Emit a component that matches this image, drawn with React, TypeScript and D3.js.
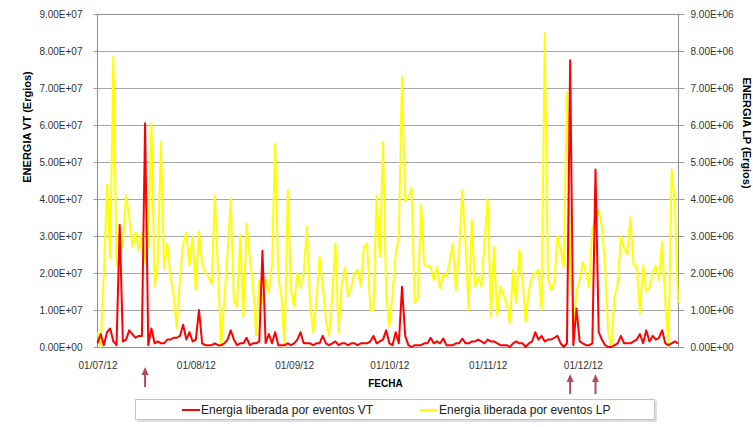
import * as d3 from "d3";
import { useEffect, useRef } from "react";

// one value per day, 01/07/12 .. 31/12/12
const startDate = new Date(2012, 6, 1);

// Energia VT, in units of 1e7 ergios (left axis)
const vtE7 = [
  0.1, 0.35, 0.05, 0.4, 0.5, 0.15, 0.05, 3.3, 0.15, 0.2,
  0.45, 0.35, 0.25, 0.3, 0.3, 6.05, 0.05, 0.5, 0.1, 0.15,
  0.1, 0.1, 0.2, 0.2, 0.25, 0.25, 0.3, 0.6, 0.2, 0.4,
  0.15, 0.2, 1.0, 0.1, 0.05, 0.05, 0.05, 0.1, 0.05, 0.05,
  0.1, 0.2, 0.45, 0.2, 0.05, 0.1, 0.1, 0.25, 0.05, 0.1,
  0.1, 0.15, 2.6, 0.1, 0.35, 0.1, 0.4, 0.05, 0.05, 0.05,
  0.1, 0.05, 0.1, 0.2, 0.4, 0.1, 0.1, 0.1, 0.05, 0.1,
  0.1, 0.3, 0.1, 0.05, 0.1, 0.15, 0.05, 0.1, 0.1, 0.05,
  0.1, 0.1, 0.05, 0.1, 0.1, 0.1, 0.15, 0.3, 0.1, 0.15,
  0.2, 0.45, 0.1, 0.05, 0.4, 0.1, 1.63, 0.3, 0.05, 0,
  0.05, 0.05, 0.05, 0.1, 0.1, 0.25, 0.1, 0.15, 0.1, 0.23,
  0.05, 0.05, 0.05, 0.1, 0.1, 0.23, 0.1, 0.1, 0.15, 0.15,
  0.2, 0.15, 0.1, 0.2, 0.15, 0.15, 0.1, 0.05, 0.05, 0.05,
  0, 0.1, 0.15, 0.1, 0.1, 0, 0.1, 0.15, 0.4, 0.2,
  0.3, 0.15, 0.2, 0.2, 0.25, 0.3, 0.1, 0, 0.1, 7.75,
  0.05, 1.04, 0.15, 0.1, 0.05, 0.05, 0.1, 4.8, 0.4, 0.2,
  0.05, 0, 0, 0.05, 0.1, 0.3, 0.1, 0.1, 0.1, 0.15,
  0.2, 0.35, 0.1, 0.45, 0.15, 0.3, 0.2, 0.25, 0.45, 0.1,
  0.05, 0.1, 0.15, 0.1,
];

// Energia LP, in units of 1e6 ergios (right axis)
const lpE6 = [
  0.4, 0, 2.0, 4.4, 2.4, 7.85, 2.2, 2.5, 2.8, 4.1,
  3.5, 2.7, 3.1, 2.6, 3.1, 2.3, 2.8, 6.05, 1.63, 2.26,
  5.55, 2.1, 2.8, 1.9, 1.4, 0.5, 1.9, 2.8, 3.1, 2.2,
  3.0, 1.54, 3.12, 2.26, 2.0, 1.9, 1.7, 4.1, 2.0, 0,
  1.3, 2.5, 4.0, 1.26, 1.08, 3.03, 0.82, 3.33, 2.44, 1.72,
  0.32, 1.81, 1.18, 1.85, 1.45, 2.2, 5.5, 1.9, 1.36, 0,
  4.24, 1.54, 1.1, 2.0, 1.6, 2.0, 3.25, 1.18, 0.4, 1.27,
  2.44, 1.72, 0.72, 0.3, 1.4, 2.8, 0.4, 1.7, 2.16, 1.36,
  1.63, 2.0, 2.08, 1.63, 2.71, 2.8, 1.0, 1.0, 4.1, 2.44,
  5.55, 1.45, 0.55, 1.4, 2.5, 3.0, 7.3, 3.93, 4.06, 4.3,
  1.18, 1.36, 3.84, 2.2, 2.2, 2.17, 1.81, 2.17, 1.59, 1.95,
  1.9, 2.3, 2.8, 1.54, 2.6, 4.24, 2.8, 1.0, 3.43, 1.63,
  1.9, 1.63, 2.8, 4.0, 0.82, 2.71, 0.86, 1.63, 1.4, 1.18,
  0.64, 2.08, 1.18, 2.62, 1.81, 0.68, 1.54, 1.9, 2.0, 2.08,
  1.0, 8.48, 1.9, 1.54, 1.72, 3.0, 2.62, 2.17, 6.9, 2.5,
  0.46, 1.5, 1.8, 2.3, 2.0, 1.6, 3.2, 3.4, 3.7, 3.25,
  2.2, 0.4, 0, 1.36, 1.7, 3.0, 2.7, 2.5, 3.5, 2.2,
  2.2, 0.9, 2.2, 1.5, 1.6, 2.0, 2.2, 1.8, 2.85, 1.2,
  0, 4.8, 3.9, 1.2,
];

const leftTicks = [0, 1e7, 2e7, 3e7, 4e7, 5e7, 6e7, 7e7, 8e7, 9e7];
const rightTicks = [0, 1e6, 2e6, 3e6, 4e6, 5e6, 6e6, 7e6, 8e6, 9e6];
const monthTicks = [
  new Date(2012, 6, 1), new Date(2012, 7, 1), new Date(2012, 8, 1),
  new Date(2012, 9, 1), new Date(2012, 10, 1), new Date(2012, 11, 1),
];
// days (index) of the big VT events marked with arrows
const arrowDays = [15, 149, 157];

const FONT = "'Liberation Sans', Arial, sans-serif";

// 9.00E+07 style
const sci = (v: number) => {
  const e = v === 0 ? 0 : Math.floor(Math.log10(v) + 1e-9);
  const mant = v / Math.pow(10, e);
  return mant.toFixed(2) + "E+" + String(e).padStart(2, "0");
};

const App = () => {
  const svgRef = useRef<SVGSVGElement | null>(null);
  const w = 753;
  const h = 427;
  const m = { top: 14, right: 75, bottom: 80, left: 97 };

  useEffect(() => {
    if (!svgRef.current) return;
    const svg = d3.select(svgRef.current);
    svg.selectAll("*").remove();

    const x0 = m.left;
    const x1 = w - m.right;
    const y0 = m.top;
    const y1 = h - m.bottom;
    const day = (i: number) => d3.timeDay.offset(startDate, i);

    const x = d3.scaleTime()
      .domain([startDate, day(vtE7.length - 1)])
      .range([x0 + 0.5, x1]);
    const yL = d3.scaleLinear().domain([0, 9e7]).range([y1, y0]);
    const yR = d3.scaleLinear().domain([0, 9e6]).range([y1, y0]);

    svg.append("rect").attr("width", w).attr("height", h).attr("fill", "#fff");

    // gridlines
    svg.append("g")
      .selectAll("line")
      .data(leftTicks)
      .enter().append("line")
      .attr("x1", x0).attr("x2", x1)
      .attr("y1", d => Math.round(yL(d)) + 0.5)
      .attr("y2", d => Math.round(yL(d)) + 0.5)
      .attr("stroke", "#a8a8a8");

    svg.append("rect")
      .attr("x", x0 + 0.5).attr("y", y0 + 0.5)
      .attr("width", x1 - x0).attr("height", y1 - y0)
      .attr("fill", "none").attr("stroke", "#8e8e8e");

    // axes
    const left = svg.append("g")
      .attr("transform", `translate(${x0 + 0.5},0)`)
      .call(d3.axisLeft(yL).tickValues(leftTicks).tickFormat(d => sci(+d)).tickSize(4).tickPadding(11));
    const right = svg.append("g")
      .attr("transform", `translate(${x1 + 0.5},0)`)
      .call(d3.axisRight(yR).tickValues(rightTicks).tickFormat(d => sci(+d)).tickSize(6).tickPadding(6));
    const bottom = svg.append("g")
      .attr("transform", `translate(0,${y1})`)
      .call(d3.axisBottom(x).tickValues(monthTicks).tickFormat(d => d3.timeFormat("%d/%m/%y")(d as Date)).tickSize(0).tickPadding(15));

    [left, right, bottom].forEach(g => {
      g.select(".domain").remove();
      g.selectAll(".tick line").attr("stroke", "#9a9a9a");
      g.selectAll("text")
        .attr("font-family", FONT)
        .attr("font-size", 10)
        .attr("fill", "#333");
    });

    // series
    const lpLine = d3.line<number>()
      .x((_, i) => x(day(i)))
      .y(d => yR(d * 1e6));
    const vtLine = d3.line<number>()
      .x((_, i) => x(day(i)))
      .y(d => yL(d * 1e7));

    svg.append("path")
      .datum(lpE6)
      .attr("d", lpLine)
      .attr("fill", "none")
      .attr("stroke", "#ffff00")
      .attr("stroke-width", 2)
      .attr("stroke-linejoin", "round");

    svg.append("path")
      .datum(vtE7)
      .attr("d", vtLine)
      .attr("fill", "none")
      .attr("stroke", "#ff0000")
      .attr("stroke-width", 2)
      .attr("stroke-linejoin", "round");

    // axis titles
    svg.append("text")
      .attr("transform", `translate(31,127) rotate(-90)`)
      .attr("text-anchor", "middle")
      .attr("font-family", FONT)
      .attr("font-size", 11)
      .attr("font-weight", "bold")
      .text("ENERGIA  VT  (Ergios)");

    svg.append("text")
      .attr("transform", `translate(743,133) rotate(90)`)
      .attr("text-anchor", "middle")
      .attr("font-family", FONT)
      .attr("font-size", 11)
      .attr("font-weight", "bold")
      .text("ENERGIA  LP  (Ergios)");

    svg.append("text")
      .attr("x", (x0 + x1) / 2 - 2)
      .attr("y", 387)
      .attr("text-anchor", "middle")
      .attr("font-family", FONT)
      .attr("font-size", 10)
      .attr("font-weight", "bold")
      .text("FECHA");

    // arrows under the VT peaks
    const arrowTop = [367, 374, 374];
    arrowDays.forEach((d, k) => {
      const ax = x(day(d));
      const t = arrowTop[k];
      const g = svg.append("g").attr("fill", "#b04a5c");
      g.append("path").attr("d", `M${ax},${t} L${ax - 3.5},${t + 8} L${ax + 3.5},${t + 8} Z`);
      g.append("rect").attr("x", ax - 1).attr("y", t + 7).attr("width", 2).attr("height", 13);
    });

    // legend
    const lg = svg.append("g");
    lg.append("rect").attr("x", 137).attr("y", 401).attr("width", 520).attr("height", 21).attr("fill", "#dedede");
    lg.append("rect").attr("x", 135.5).attr("y", 399.5).attr("width", 519).attr("height", 20)
      .attr("fill", "#fff").attr("stroke", "#c4c4c4");
    const items = [
      { label: "Energia liberada por eventos VT", color: "#ff0000", lx: 182 },
      { label: "Energia liberada por eventos LP", color: "#ffff00", lx: 420 },
    ];
    items.forEach(it => {
      lg.append("line")
        .attr("x1", it.lx).attr("x2", it.lx + 18)
        .attr("y1", 410).attr("y2", 410)
        .attr("stroke", it.color).attr("stroke-width", 2);
      lg.append("text")
        .attr("x", it.lx + 19).attr("y", 414)
        .attr("font-family", FONT)
        .attr("font-size", 12)
        .attr("fill", "#222")
        .text(it.label);
    });
  }, []);

  return (
    <svg
      ref={svgRef}
      width={w}
      height={h}
      style={{ position: "absolute", left: 0, top: 0 }}
    ></svg>
  );
};

export default App;
